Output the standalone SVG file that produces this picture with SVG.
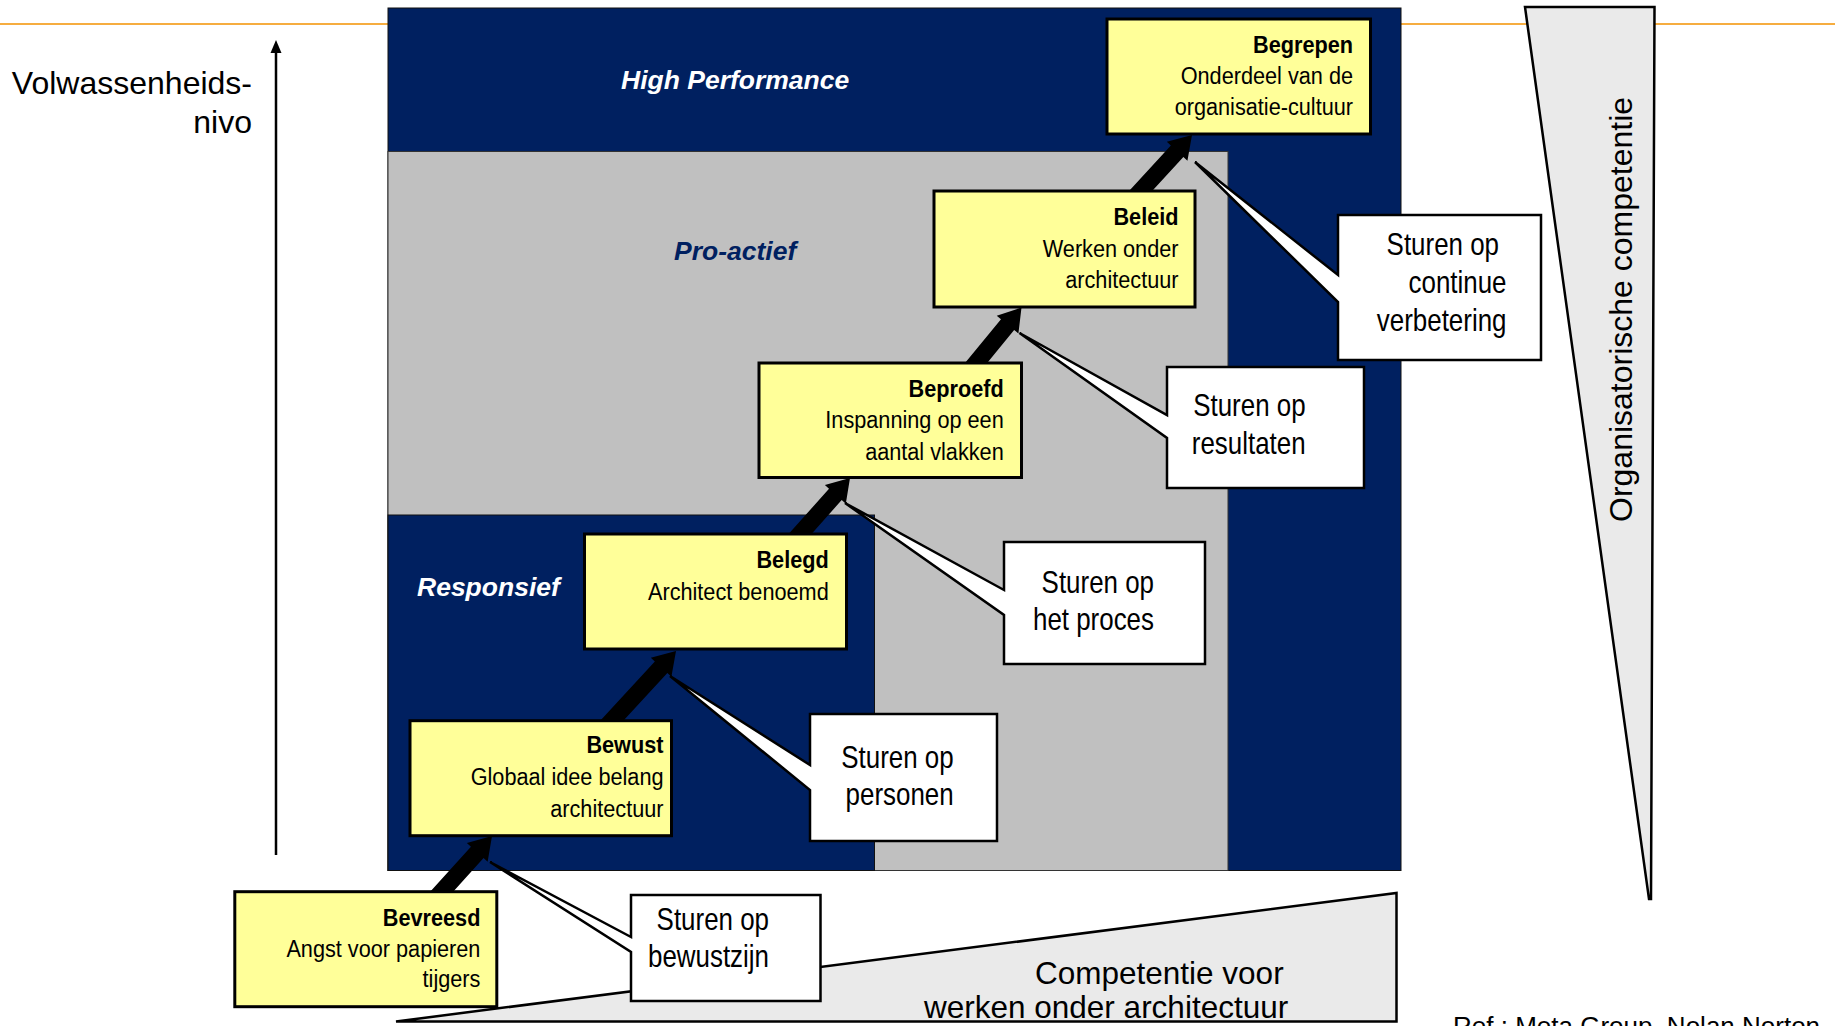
<svg xmlns="http://www.w3.org/2000/svg" width="1835" height="1026" viewBox="0 0 1835 1026">
<style>
text{font-family:"Liberation Sans",Arial,Helvetica,sans-serif;fill:#000}
.bt{font-size:24.5px;font-weight:bold;text-anchor:end}
.bx{font-size:24.5px;text-anchor:end}
.ct{font-size:30.5px;text-anchor:end}
.lab{font-size:26.5px;font-weight:bold;font-style:italic}
.big{font-size:31.5px}
.ybox{fill:#FFFF99;stroke:#000;stroke-width:3}
.call{fill:#fff;stroke:#000;stroke-width:2.5;stroke-linejoin:miter}
.wedge{fill:#EAEAEA;stroke:#000;stroke-width:2.5}
.arr{fill:#000}
</style>
<rect width="1835" height="1026" fill="#fff"/>
<line x1="0" y1="24" x2="1835" y2="24" stroke="#F39200" stroke-width="1.6"/>

<g id="background">
<rect x="388" y="8" width="1013" height="862.5" fill="#002060" stroke="#111" stroke-width="1"/>
<rect x="388" y="151.5" width="840" height="719" fill="#C0C0C0" stroke="#333" stroke-width="1"/>
<rect x="388" y="515" width="486.5" height="355.5" fill="#002060" stroke="#111" stroke-width="1"/>
<text class="lab" x="621" y="89" style="fill:#fff">High Performance</text>
<text class="lab" x="674" y="260" style="fill:#002060">Pro-actief</text>
<text class="lab" x="417" y="596" style="fill:#fff">Responsief</text>
</g>

<g id="axis-left">
<line x1="276" y1="855" x2="276" y2="50" stroke="#000" stroke-width="2.5"/>
<polygon points="276,40 270.5,53 281.5,53" fill="#000"/>
<text x="252" y="94" text-anchor="end" style="font-size:32px">Volwassenheids-</text>
<text x="252" y="133" text-anchor="end" style="font-size:32px">nivo</text>
</g>

<g id="wedge-right">
<polygon class="wedge" points="1525,7 1654.5,7 1651,899 1649,899"/>
<text transform="translate(1632,522) rotate(-90)" style="font-size:32px">Organisatorische competentie</text>
</g>

<g id="wedge-bottom">
<polygon class="wedge" points="396,1021.5 1396.5,893 1396.5,1021.5"/>
<text class="big" x="1035" y="983.5">Competentie voor</text>
<text class="big" x="924" y="1018">werken onder architectuur</text>
</g>

<text id="ref" x="1453" y="1035" style="font-size:26px">Ref : Meta Group, Nolan Norton</text>

<g id="connectors">
<polygon class="arr" points="429.69,892.30 470.94,846.63 466.86,842.95 492,836 487.64,861.71 483.56,858.03 442.31,903.70"/>
<polygon class="arr" points="599.75,721.24 654.85,661.42 650.80,657.69 676,651 671.40,676.67 667.35,672.94 612.25,732.76"/>
<polygon class="arr" points="785.66,537.34 829.01,488.76 824.90,485.10 850,478 845.80,503.74 841.69,500.08 798.34,548.66"/>
<polygon class="arr" points="965.42,362.62 1000.99,319.15 996.73,315.67 1021.5,307.5 1018.41,333.39 1014.15,329.91 978.58,373.38"/>
<polygon class="arr" points="1129.74,190.25 1170.86,145.46 1166.81,141.74 1192,135 1187.43,160.68 1183.38,156.96 1142.26,201.75"/>
</g>

<g id="callout-verbetering">
<path class="call" d="M1338,215 H1541 V360 H1338 V302 L1195,162 L1338,275 Z"/>
<text class="ct" transform="translate(1499,255) scale(0.85,1)">Sturen op</text>
<text class="ct" transform="translate(1506.5,293) scale(0.85,1)">continue</text>
<text class="ct" transform="translate(1506.5,331) scale(0.85,1)">verbetering</text>
</g>
<g id="callout-resultaten">
<path class="call" d="M1167,367 H1364 V488 H1167 V438 L1019.5,333 L1167,415 Z"/>
<text class="ct" transform="translate(1305.6,416) scale(0.85,1)">Sturen op</text>
<text class="ct" transform="translate(1305.6,454) scale(0.85,1)">resultaten</text>
</g>
<g id="callout-proces">
<path class="call" d="M1004,542 H1205 V664 H1004 V615 L845,503 L1004,590 Z"/>
<text class="ct" transform="translate(1154,593) scale(0.85,1)">Sturen op</text>
<text class="ct" transform="translate(1154,630) scale(0.85,1)">het proces</text>
</g>
<g id="callout-personen">
<path class="call" d="M810,714 H997 V841 H810 V790 L670,676 L810,765 Z"/>
<text class="ct" transform="translate(953.7,768) scale(0.85,1)">Sturen op</text>
<text class="ct" transform="translate(953.7,805) scale(0.85,1)">personen</text>
</g>
<g id="callout-bewustzijn">
<path class="call" d="M631,895 H820.5 V1001 H631 V952 L490,862 L631,937 Z"/>
<text class="ct" transform="translate(769,930) scale(0.85,1)">Sturen op</text>
<text class="ct" transform="translate(769,967) scale(0.85,1)">bewustzijn</text>
</g>

<g id="node-begrepen">
<rect class="ybox" x="1107" y="19" width="263.5" height="115"/>
<text class="bt" transform="translate(1353,52.7) scale(0.885,1)">Begrepen</text>
<text class="bx" transform="translate(1353,84) scale(0.885,1)">Onderdeel van de</text>
<text class="bx" transform="translate(1353,115) scale(0.885,1)">organisatie-cultuur</text>
</g>
<g id="node-beleid">
<rect class="ybox" x="934" y="191" width="261" height="116"/>
<text class="bt" transform="translate(1178.5,224.5) scale(0.885,1)">Beleid</text>
<text class="bx" transform="translate(1178.5,256.5) scale(0.885,1)">Werken onder</text>
<text class="bx" transform="translate(1178.5,287.5) scale(0.885,1)">architectuur</text>
</g>
<g id="node-beproefd">
<rect class="ybox" x="759" y="363" width="262.5" height="114.5"/>
<text class="bt" transform="translate(1003.7,396.7) scale(0.885,1)">Beproefd</text>
<text class="bx" transform="translate(1003.7,428) scale(0.885,1)">Inspanning op een</text>
<text class="bx" transform="translate(1003.7,460) scale(0.885,1)">aantal vlakken</text>
</g>
<g id="node-belegd">
<rect class="ybox" x="584.5" y="534" width="262" height="115"/>
<text class="bt" transform="translate(828.7,567.7) scale(0.885,1)">Belegd</text>
<text class="bx" transform="translate(828.7,600) scale(0.885,1)">Architect benoemd</text>
</g>
<g id="node-bewust">
<rect class="ybox" x="410" y="720.7" width="261.5" height="115"/>
<text class="bt" transform="translate(663.5,753) scale(0.885,1)">Bewust</text>
<text class="bx" transform="translate(663.5,785) scale(0.885,1)">Globaal idee belang</text>
<text class="bx" transform="translate(663.5,816.7) scale(0.885,1)">architectuur</text>
</g>
<g id="node-bevreesd">
<rect class="ybox" x="234.8" y="891.7" width="262" height="115"/>
<text class="bt" transform="translate(480.4,925.7) scale(0.885,1)">Bevreesd</text>
<text class="bx" transform="translate(480.4,956.7) scale(0.885,1)">Angst voor papieren</text>
<text class="bx" transform="translate(480.4,986.7) scale(0.885,1)">tijgers</text>
</g>
</svg>
